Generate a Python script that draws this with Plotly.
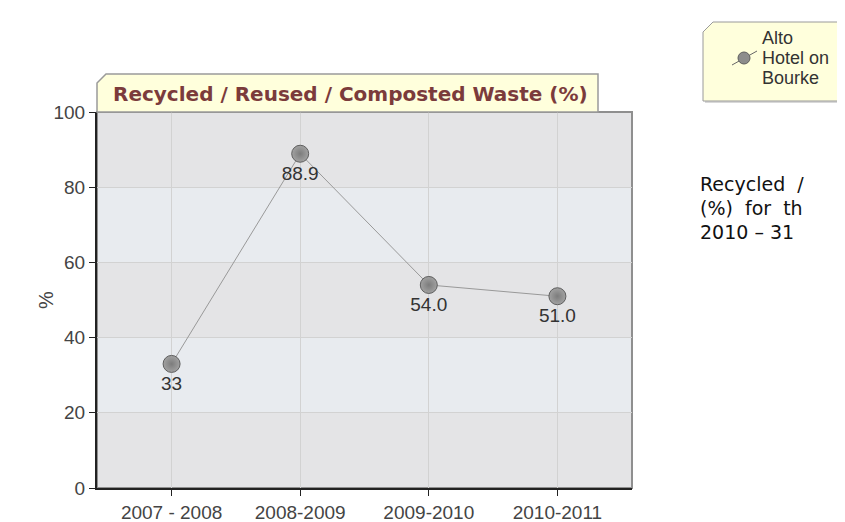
import plotly.graph_objects as go

# data
periods = ["2007 - 2008", "2008-2009", "2009-2010", "2010-2011"]
waste_pct = [33, 88.9, 54.0, 51.0]
point_labels = ["33", "88.9", "54.0", "51.0"]
y_ticks = [0, 20, 40, 60, 80, 100]
chart_title = "Recycled / Reused / Composted Waste (%)"
series_name = ["Alto", "Hotel on", "Bourke"]
side_text = ["Recycled\u00a0\u00a0/",
             "(%)\u00a0\u00a0for\u00a0\u00a0th",
             "2010 \u2013 31"]

# page has an 8px body margin, so the figure is drawn 8px smaller
OFF = 8
W, H = 845 - OFF, 522 - OFF
L, R, T, B = 97 - OFF, 213, 112 - OFF, 34
PW, PH = 535, 376

FONT = "Arial, Liberation Sans"


def px(x):
    # reference pixel -> paper x
    return (x - 97) / PW


def py(y):
    # reference pixel -> paper y
    return (488 - y) / PH


def poly(points):
    return "M " + " L ".join(f"{px(a)},{py(b)}" for a, b in points) + " Z"


fig = go.Figure()
fig.add_trace(go.Scatter(
    x=periods, y=waste_pct, text=point_labels,
    mode="lines+markers+text", textposition="bottom center",
    textfont=dict(family=FONT, size=19, color="#333"),
    line=dict(color="#999", width=1),
    marker=dict(size=17, color="#a2a2a2", line=dict(color="#5e5e5e", width=1),
                gradient=dict(type="radial", color="#7c7c7c")),
    showlegend=False, cliponaxis=False,
))

shapes = []
# alternating bands
for i in range(len(y_ticks) - 1):
    if i % 2 == 1:
        shapes.append(dict(type="rect", xref="paper", yref="y", x0=0, x1=1,
                           y0=y_ticks[i], y1=y_ticks[i + 1], fillcolor="#e8ebef",
                           line=dict(width=0), layer="below"))
# frame top/right
shapes.append(dict(type="rect", xref="paper", yref="paper", x0=0, x1=1, y0=0, y1=1,
                   line=dict(color="#8f8f8f", width=2), layer="below"))
# title tab
shapes.append(dict(type="path", xref="paper", yref="paper",
                   path=poly([(97, 112), (97, 83), (106, 74), (598, 74), (598, 112)]),
                   fillcolor="#ffffdc", line=dict(color="#9a9a9a", width=1.5)))
# legend box
box = [(703, 101), (703, 32), (713, 22), (852, 22), (852, 92), (843, 101)]
shapes.append(dict(type="path", xref="paper", yref="paper",
                   path=poly([(a + 2, b + 2) for a, b in box]),
                   fillcolor="#d8d8d8", line=dict(width=0)))
shapes.append(dict(type="path", xref="paper", yref="paper", path=poly(box),
                   fillcolor="#ffffdc", line=dict(color="#9a9a9a", width=1)))
# legend icon
shapes.append(dict(type="line", xref="paper", yref="paper",
                   x0=px(732), y0=py(65), x1=px(757), y1=py(51),
                   line=dict(color="#666", width=1)))
shapes.append(dict(type="circle", xref="paper", yref="paper",
                   x0=px(738), y0=py(64), x1=px(750), y1=py(52),
                   fillcolor="#8c8c8c", line=dict(color="#5e5e5e", width=1)))

annotations = [
    dict(text=f"<b>{chart_title}</b>", xref="paper", yref="paper",
         x=px(350), y=py(94), showarrow=False, xanchor="center", yanchor="middle",
         font=dict(family="DejaVu Sans", size=20, color="#7b3b3b")),
    dict(text="%", xref="paper", yref="paper", x=px(46), y=py(300), showarrow=False,
         xanchor="center", yanchor="middle",
         textangle=-90, font=dict(family=FONT, size=20, color="#444")),
]
for i, line in enumerate(series_name):
    annotations.append(dict(text=line, xref="paper", yref="paper", x=px(760),
                            y=py(38 + 20 * i), showarrow=False, xanchor="left",
                            yanchor="middle",
                            font=dict(family=FONT, size=18, color="#333")))
for i, line in enumerate(side_text):
    annotations.append(dict(text=line, xref="paper", yref="paper", x=px(698),
                            y=py(184 + 24 * i), showarrow=False, xanchor="left",
                            yanchor="middle",
                            font=dict(family="DejaVu Sans", size=19, color="#111")))

fig.update_layout(
    width=W, height=H,
    margin=dict(l=L, r=R, t=T, b=B, autoexpand=False),
    paper_bgcolor="white", plot_bgcolor="#e4e4e6",
    shapes=shapes, annotations=annotations,
    xaxis=dict(type="category", range=[-0.58, 3.58], showgrid=True, gridcolor="#d2d2d2",
               showline=True, linecolor="#222", linewidth=2, ticks="outside",
               ticklen=6, tickcolor="#222", zeroline=False, automargin=False,
               tickfont=dict(family=FONT, size=19, color="#444")),
    yaxis=dict(range=[0, 100], tickvals=y_ticks, showgrid=True, gridcolor="#d2d2d2",
               showline=True, linecolor="#222", linewidth=2, ticks="outside",
               ticklen=6, tickcolor="#222", zeroline=False, automargin=False,
               tickfont=dict(family=FONT, size=19, color="#444")),
)
fig.write_html("out.html")
